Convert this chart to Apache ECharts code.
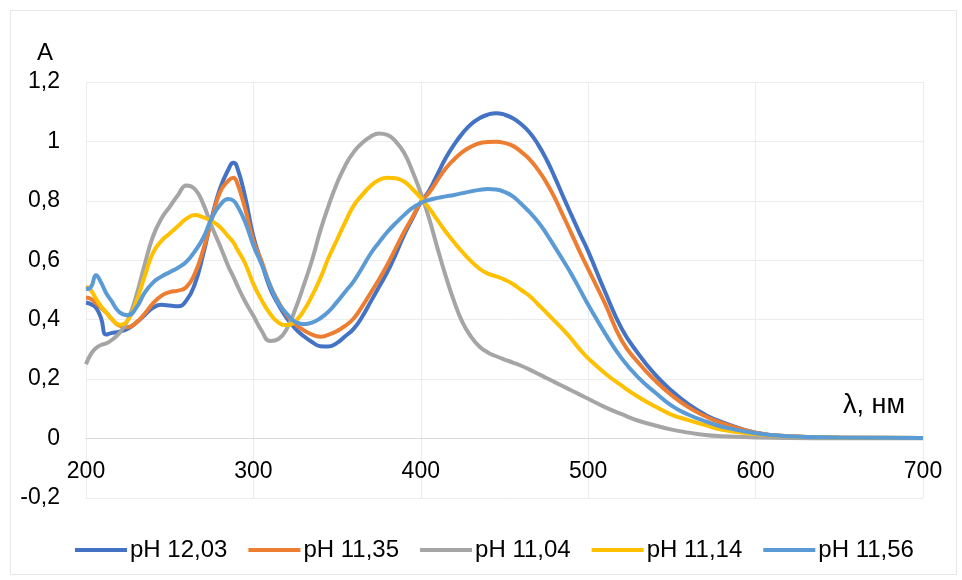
<!DOCTYPE html>
<html>
<head>
<meta charset="utf-8">
<script src="https://cdn.jsdelivr.net/npm/echarts@6/dist/echarts.min.js"></script>
<style>
html,body{margin:0;padding:0;background:#fff;}
#chart{width:962px;height:580px;}
</style>
</head>
<body>
<div id="chart"></div>
<script>
const wavelengths = [200,203,206,209,212,215,220,225,230,235,240,245,250,255,260,265,270,275,280,285,288,290,295,300,305,310,315,320,325,330,
  335,340,345,350,355,360,365,370,375,380,385,390,395,400,405,410,415,420,425,430,435,440,445,450,455,460,465,470,475,480,485,490,495,500,
  510,520,530,540,550,560,570,580,600,620,650,700];

const seriesNames = ['pH 12,03','pH 11,35','pH 11,04','pH 11,14','pH 11,56'];

const pH1203 = [0.458,0.452,0.44,0.405,0.35,0.355,0.36,0.37,0.39,0.415,0.44,0.45,0.448,0.445,0.465,0.52,0.62,0.74,0.84,0.905,0.928,0.918,0.815,0.68,0.59,0.505,0.45,0.405,0.37,0.345,
  0.325,0.311,0.31,0.322,0.345,0.37,0.41,0.46,0.51,0.56,0.62,0.685,0.74,0.795,0.835,0.89,0.945,0.99,1.028,1.058,1.078,1.09,1.095,1.09,1.078,1.058,1.03,0.99,0.94,0.88,0.815,0.752,0.69,0.63,
  0.495,0.37,0.285,0.215,0.16,0.115,0.08,0.055,0.02,0.008,0.003,0.002];
const pH1135 = [0.475,0.47,0.455,0.44,0.425,0.405,0.38,0.375,0.39,0.42,0.455,0.48,0.493,0.498,0.51,0.555,0.635,0.735,0.828,0.868,0.878,0.865,0.775,0.665,0.595,0.515,0.46,0.415,0.385,0.365,
  0.35,0.343,0.35,0.362,0.38,0.405,0.445,0.49,0.535,0.585,0.64,0.695,0.745,0.795,0.828,0.87,0.91,0.94,0.965,0.982,0.994,0.998,0.999,0.995,0.985,0.965,0.94,0.905,0.862,0.81,0.75,0.69,0.628,0.57,
  0.455,0.33,0.255,0.195,0.145,0.105,0.075,0.052,0.02,0.008,0.003,0.002];
const pH1104 = [0.25,0.285,0.305,0.315,0.32,0.33,0.355,0.4,0.48,0.585,0.68,0.74,0.78,0.82,0.852,0.84,0.79,0.715,0.65,0.58,0.545,0.52,0.462,0.413,0.362,0.328,0.335,0.37,0.435,0.515,
  0.6,0.7,0.785,0.86,0.92,0.965,0.995,1.016,1.027,1.022,1.0,0.962,0.9,0.826,0.74,0.64,0.545,0.46,0.39,0.343,0.31,0.29,0.277,0.266,0.256,0.245,0.232,0.218,0.204,0.19,0.176,0.162,0.148,0.134,
  0.106,0.082,0.06,0.044,0.03,0.02,0.012,0.008,0.004,0.002,0.001,0.001];
const pH1114 = [0.512,0.498,0.47,0.445,0.425,0.405,0.383,0.398,0.46,0.545,0.625,0.665,0.69,0.715,0.74,0.752,0.745,0.732,0.712,0.68,0.66,0.64,0.59,0.52,0.465,0.42,0.39,0.382,0.395,0.43,
  0.48,0.54,0.61,0.67,0.73,0.785,0.82,0.85,0.87,0.878,0.876,0.865,0.84,0.81,0.775,0.735,0.695,0.66,0.627,0.597,0.572,0.555,0.546,0.535,0.52,0.5,0.48,0.452,0.424,0.395,0.367,0.335,0.3,0.27,
  0.22,0.178,0.14,0.108,0.08,0.062,0.045,0.03,0.015,0.008,0.004,0.002];
const pH1156 = [0.503,0.51,0.55,0.525,0.49,0.465,0.425,0.415,0.44,0.49,0.525,0.545,0.56,0.575,0.595,0.63,0.675,0.74,0.785,0.806,0.801,0.787,0.73,0.65,0.585,0.515,0.455,0.42,0.392,0.385,
  0.39,0.405,0.428,0.46,0.495,0.53,0.575,0.622,0.66,0.695,0.725,0.752,0.776,0.793,0.803,0.81,0.815,0.82,0.826,0.832,0.837,0.84,0.838,0.83,0.815,0.79,0.762,0.73,0.69,0.645,0.6,0.553,0.502,0.45,
  0.355,0.27,0.205,0.155,0.11,0.08,0.058,0.04,0.018,0.008,0.004,0.002];

const seriesValues = [pH1203, pH1135, pH1104, pH1114, pH1156];
const colors = ['#4472C4','#ED7D31','#A5A5A5','#FFC000','#5B9BD5'];

const yTicks = {min:-0.2, max:1.2, interval:0.2};
const xTicks = {min:200, max:700, interval:100};

const FONT = '"Liberation Sans", Arial, sans-serif';
const GRID = {left: 86, right: 39, top: 82, bottom: 82};
const plotH = 580 - GRID.top - GRID.bottom;
const zeroOffset = plotH * (0 - yTicks.min) / (yTicks.max - yTicks.min);

const chart = echarts.init(document.getElementById('chart'), null, {renderer:'canvas'});

const series = seriesNames.map((name, i) => ({
  name: name,
  type: 'line',
  data: wavelengths.map((w, j) => [w, seriesValues[i][j]]),
  smooth: 0.5,
  showSymbol: false,
  symbol: 'none',
  lineStyle: {width: 4, color: colors[i]},
  itemStyle: {color: colors[i]},
  z: 2 + i
}));

chart.setOption({
  animation: false,
  backgroundColor: '#fff',
  grid: Object.assign({containLabel: false}, GRID),
  legend: {
    data: seriesNames,
    top: 533,
    left: 70,
    itemWidth: 52,
    itemHeight: 14,
    itemGap: 21,
    textStyle: {fontFamily: FONT, fontSize: 24, color: '#000', padding:[0,0,0,-2]},
    icon: 'path://M0,5 L52,5 L52,9 L0,9 Z'
  },
  xAxis: {
    type: 'value',
    min: xTicks.min, max: xTicks.max, interval: xTicks.interval,
    offset: -zeroOffset,
    axisLine: {show: true, onZero: false, lineStyle: {color: '#d9d9d9', width: 1}},
    axisTick: {show: false},
    axisLabel: {fontFamily: FONT, fontSize: 23, color: '#000', margin: 22},
    splitLine: {show: true, lineStyle: {color: '#ececec', width: 1}}
  },
  yAxis: {
    type: 'value',
    min: yTicks.min, max: yTicks.max, interval: yTicks.interval,
    axisLine: {show: false},
    axisTick: {show: false},
    axisLabel: {
      fontFamily: FONT, fontSize: 23, color: '#000', margin: 26,
      formatter: v => String(+v.toFixed(1)).replace('.', ',')
    },
    splitLine: {show: true, lineStyle: {color: '#ececec', width: 1}}
  },
  graphic: [
    {type: 'rect', left: 8, top: 8, shape: {width: 946, height: 564}, style: {fill: 'none', stroke: '#e6e6e6', lineWidth: 1}, silent: true},
    {type: 'text', left: 37, top: 41, style: {text: 'A', font: '24px ' + FONT, fill: '#000'}},
    {type: 'text', left: 843, top: 392, style: {text: 'λ, нм', font: '27px ' + FONT, fill: '#000'}}
  ],
  series: series
});
</script>
</body>
</html>
